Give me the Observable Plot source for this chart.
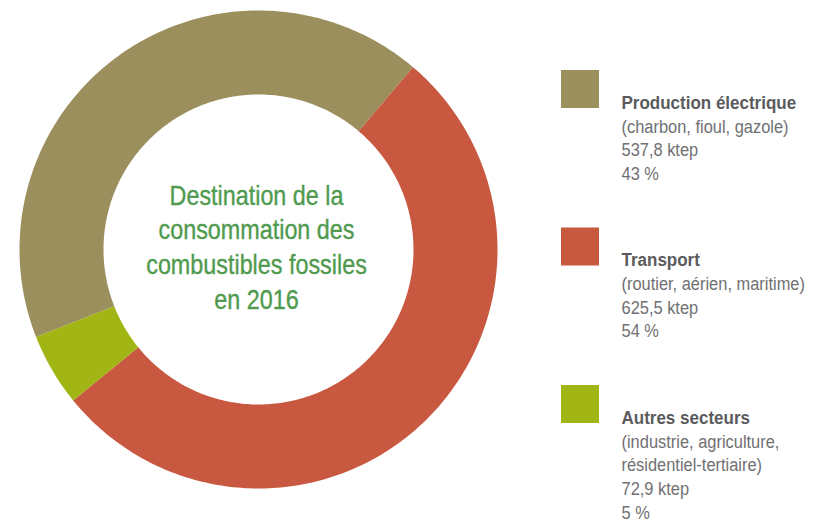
<!DOCTYPE html>
<html>
<head>
<meta charset="utf-8">
<script src="https://cdn.jsdelivr.net/npm/d3@7"></script>
<script src="https://cdn.jsdelivr.net/npm/@observablehq/plot@0.6"></script>
<style>
  html, body { margin: 0; padding: 0; background: #fff; }
  #chart svg { display: block; }
</style>
</head>
<body>
<div id="chart"></div>
<script>
// ---- Data ----
const categories = ["Production électrique", "Transport", "Autres secteurs"];
const details = [
  ["(charbon, fioul, gazole)"],
  ["(routier, aérien, maritime)"],
  ["(industrie, agriculture,", "résidentiel-tertiaire)"]
];
const ktep = [537.8, 625.5, 72.9];
const percent = [43, 54, 5];
const colors = ["#9c8f5e", "#c8583f", "#a1b614"];
const title = "Destination de la\nconsommation des\ncombustibles fossiles\nen 2016";

// ---- Layout ----
const W = 814, H = 521;
const cx = 258, cy = 249, R = 239, r = 155;
const startDeg = -111.5;
const FONT = "'Liberation Sans', Arial, sans-serif";

// slices from d3.pie on the percentages
const pie = d3.pie().sort(null).value(d => d.value).startAngle(startDeg * Math.PI / 180).endAngle(startDeg * Math.PI / 180 + 2 * Math.PI);
const arcs = pie(categories.map((c, i) => ({cat: c, value: percent[i]})));
const slicePts = [];
for (const a of arcs) {
  const n = Math.max(8, Math.ceil((a.endAngle - a.startAngle) * 60));
  for (let k = 0; k <= n; k++) {
    const t = a.startAngle + (a.endAngle - a.startAngle) * k / n;
    slicePts.push({cat: a.data.cat, x: cx + R * Math.sin(t), y: cy - R * Math.cos(t)});
  }
  for (let k = n; k >= 0; k--) {
    const t = a.startAngle + (a.endAngle - a.startAngle) * k / n;
    slicePts.push({cat: a.data.cat, x: cx + r * Math.sin(t), y: cy - r * Math.cos(t)});
  }
}

// legend
const legX = 561, legTextX = 621, sq = 38;
const legTop = i => 70 + 157.5 * i;
const legendSquares = categories.map((c, i) => ({cat: c, x1: legX, x2: legX + sq, y1: legTop(i), y2: legTop(i) + sq}));
const legendLines = [];
categories.forEach((c, i) => {
  let y = legTop(i) + 38.3;
  legendLines.push({x: legTextX, y, text: c, bold: true});
  const rest = [...details[i], d3.format(".1f")(ktep[i]).replace(".", ",") + " ktep", percent[i] + " %"];
  rest.forEach((t) => {
    y += 23.7;
    legendLines.push({x: legTextX, y, text: t, bold: false});
  });
});

const chart = Plot.plot({
  width: W,
  height: H,
  margin: 0,
  x: {domain: [0, W], range: [0, W], axis: null},
  y: {domain: [0, H], range: [0, H], axis: null},
  color: {domain: categories, range: colors},
  style: {background: "#fff", fontFamily: FONT},
  marks: [
    Plot.line(slicePts, {x: "x", y: "y", z: "cat", fill: "cat", stroke: null, curve: "linear-closed"}),
    Plot.text([title], {x: [cx - 2], y: [245], text: d => d, fontSize: 27, lineHeight: 34.7 / 27, fill: "#4f9a4e", stroke: "#4f9a4e", strokeWidth: 0.35, textAnchor: "middle", lineAnchor: "middle", fontFamily: FONT, className: "sq-title"}),
    Plot.rect(legendSquares, {x1: "x1", x2: "x2", y1: "y1", y2: "y2", fill: "cat"}),
    Plot.text(legendLines.filter(d => d.bold), {x: "x", y: "y", text: "text", textAnchor: "start", lineAnchor: "bottom", fontSize: 19, fontWeight: "bold", fill: "#5b5b5d", fontFamily: FONT, className: "sq-bold"}),
    Plot.text(legendLines.filter(d => !d.bold), {x: "x", y: "y", text: "text", textAnchor: "start", lineAnchor: "bottom", fontSize: 19, fill: "#707072", fontFamily: FONT, className: "sq-reg"})
  ]
});
document.getElementById("chart").appendChild(chart);

// condense the text horizontally (the reference uses a condensed face)
const squeeze = {"sq-title": 0.865, "sq-bold": 0.895, "sq-reg": 0.865};
for (const [cls, s] of Object.entries(squeeze)) {
  chart.querySelectorAll(`g.${cls} text`).forEach(t => {
    const tr = t.getAttribute("transform") || "";
    t.setAttribute("transform", `${tr} scale(${s},1)`);
  });
}
</script>
</body>
</html>
